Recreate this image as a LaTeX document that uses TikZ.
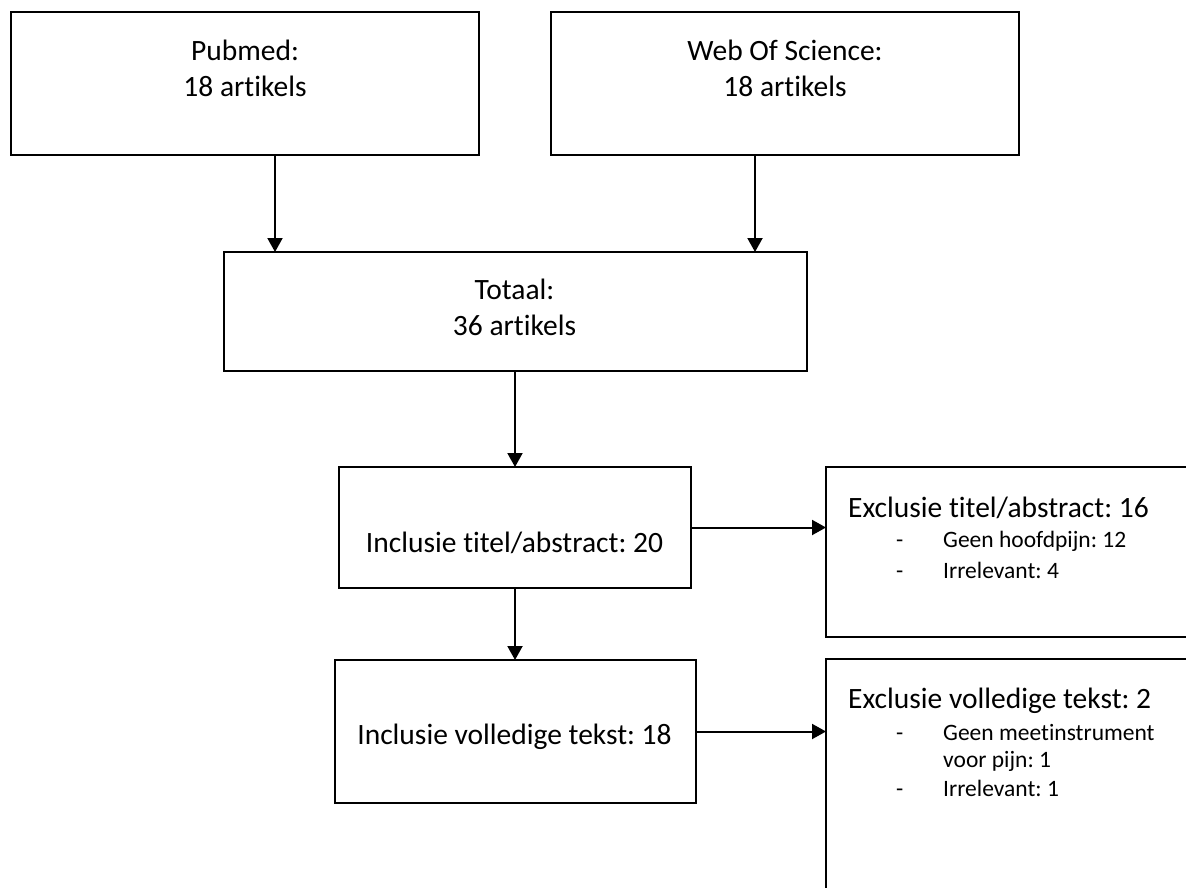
\documentclass[tikz,border=0pt]{standalone}
\usepackage{fontspec}
\setmainfont{Carlito}[Ligatures={NoCommon,NoRequired}]
\usetikzlibrary{arrows.meta}
\frenchspacing
\begin{document}
\begin{tikzpicture}[x=1pt,y=-1pt,
  box/.style={draw, line width=2pt, inner sep=0pt, outer sep=0pt},
  arr/.style={line width=2pt, -{Triangle[length=14pt,width=15pt]}},
  maintxt/.style={inner sep=0pt, font=\fontsize{29.5}{36}\selectfont},
  itemtxt/.style={inner sep=0pt, font=\fontsize{23.5}{28}\selectfont, anchor=base west}]
\useasboundingbox (0,0) rectangle (1186,888);
\clip (0,0) rectangle (1186,888);
% boxes
\node[box, minimum width=468pt, minimum height=143pt] (pub) at (245,83.5) {};
\node[box, minimum width=468pt, minimum height=143pt] (wos) at (785,83.5) {};
\node[box, minimum width=583pt, minimum height=119pt] (tot) at (515,311.5) {};
\node[box, minimum width=352pt, minimum height=121pt] (it) at (515,527.5) {};
\node[box, minimum width=361pt, minimum height=143pt] (iv) at (515,731.5) {};
\node[box, minimum width=380pt, minimum height=170pt] (et) at (1016,552) {};
\node[box, minimum width=380pt, minimum height=250pt] (ev) at (1016,784) {};
% texts
\node[maintxt, anchor=base] (pubA) at (245,61) {Pubmed:};
\node[maintxt, anchor=base] (pubB) at (245,97) {18 artikels};
\node[maintxt, anchor=base] (wosA) at (785,61) {Web Of Science:};
\node[maintxt, anchor=base] (wosB) at (785,97) {18 artikels};
\node[maintxt, anchor=base] (totA) at (514.5,299) {Totaal:};
\node[maintxt, anchor=base] (totB) at (514.5,335) {36 artikels};
\node[maintxt, anchor=base] (itA) at (514.5,552) {Inclusie titel/abstract: 20};
\node[maintxt, anchor=base] (ivA) at (514.5,744) {Inclusie volledige tekst: 18};
% exclusion titel/abstract
\node[maintxt, anchor=base west] (etA) at (848,517) {Exclusie titel/abstract: 16};
\node[itemtxt] (etd1) at (896,547) {-};
\node[itemtxt] (et1) at (943,547) {Geen hoofdpijn: 12};
\node[itemtxt] (etd2) at (896,578) {-};
\node[itemtxt] (et2) at (943,578) {Irrelevant: 4};
% exclusion volledige tekst
\node[maintxt, anchor=base west] (evA) at (848,708) {Exclusie volledige tekst: 2};
\node[itemtxt] (evd1) at (896,740) {-};
\node[itemtxt] (ev1) at (943,740) {Geen meetinstrument};
\node[itemtxt] (ev1b) at (943,767) {voor pijn: 1};
\node[itemtxt] (evd2) at (896,796) {-};
\node[itemtxt] (ev2) at (943,796) {Irrelevant: 1};
% arrows
\draw[arr] ([xshift=30pt]pub.south) -- ([xshift=-240pt]tot.north);
\draw[arr] ([xshift=-30pt]wos.south) -- ([xshift=240pt]tot.north);
\draw[arr] (tot.south) -- (it.north);
\draw[arr] (it.south) -- (iv.north);
\draw[arr] (it.east) -- (it.east -| et.west);
\draw[arr] (iv.east) -- (iv.east -| ev.west);
\end{tikzpicture}
\end{document}
